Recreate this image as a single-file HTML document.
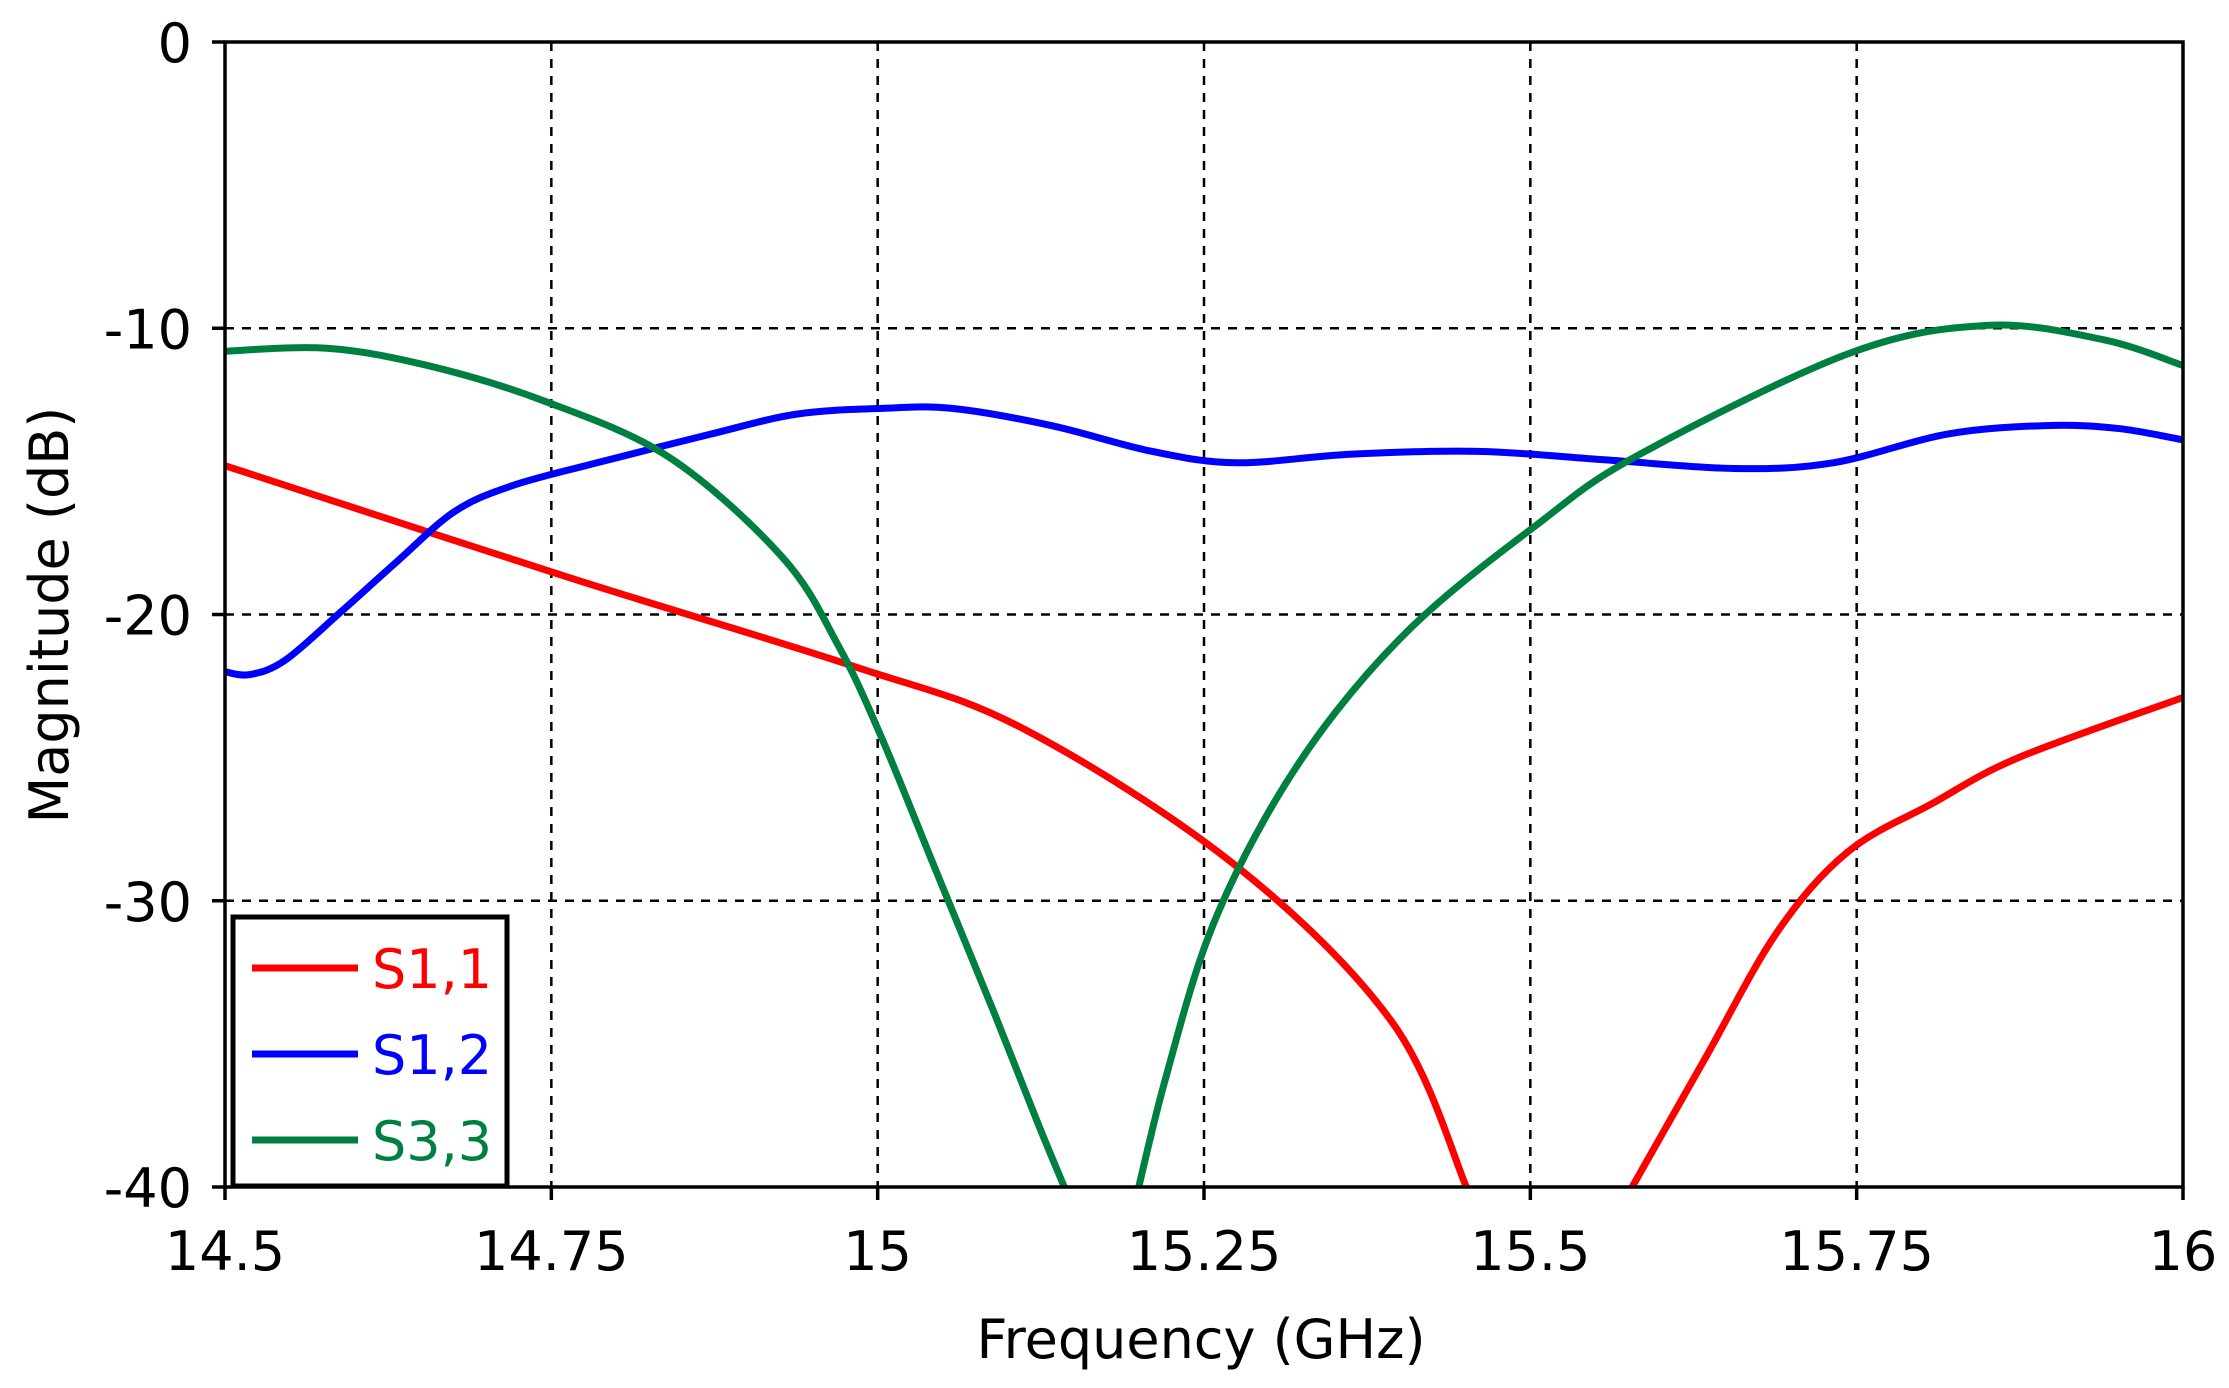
<!DOCTYPE html>
<html><head><meta charset="utf-8"><style>
html,body{margin:0;padding:0;background:#fff;}
svg{display:block;}
text{font-family:"DejaVu Sans","Liberation Sans",sans-serif;}
</style></head><body>
<svg id="s" width="2229" height="1388" xmlns="http://www.w3.org/2000/svg">
<g id="grid" stroke="#000" stroke-width="2.5" stroke-dasharray="9,8"></g>
<g id="curves" fill="none" stroke-width="7" stroke-linejoin="round"></g>
<rect x="225" y="42" width="1958" height="1145" fill="none" stroke="#000" stroke-width="3.5"/>
<g id="ticks" stroke="#000" stroke-width="3.5"></g>
<g id="labels" font-size="54" fill="#000"></g>
<text x="1201" y="1358" font-size="54" text-anchor="middle">Frequency (GHz)</text>
<text transform="translate(68,615) rotate(-90)" font-size="54" text-anchor="middle">Magnitude (dB)</text>
<rect x="233" y="917" width="274" height="269" fill="#fff" stroke="#000" stroke-width="5"/>
<line x1="252" y1="968" x2="358" y2="968" stroke="#ff0000" stroke-width="7"/>
<line x1="252" y1="1054" x2="358" y2="1054" stroke="#0000ff" stroke-width="7"/>
<line x1="252" y1="1140" x2="358" y2="1140" stroke="#008040" stroke-width="7"/>
<text x="372" y="988" font-size="54" fill="#ff0000">S1,1</text>
<text x="372" y="1074" font-size="54" fill="#0000ff">S1,2</text>
<text x="372" y="1160" font-size="54" fill="#008040">S3,3</text>
</svg>
<script>
var NS="http://www.w3.org/2000/svg";
function X(f){return 225+(f-14.5)/1.5*1958;}
function Y(d){return 42+(-d)/40*1145;}
function el(p,n,a){var e=document.createElementNS(NS,n);for(var k in a)e.setAttribute(k,a[k]);p.appendChild(e);return e;}
var g=document.getElementById('grid'),t=document.getElementById('ticks'),L=document.getElementById('labels');
var xs=[14.5,14.75,15,15.25,15.5,15.75,16],xl=["14.5","14.75","15","15.25","15.5","15.75","16"];
xs.forEach(function(f,i){var x=X(f);if(i>0&&i<6)el(g,'line',{x1:x,y1:42,x2:x,y2:1187});
el(t,'line',{x1:x,y1:1187,x2:x,y2:1200});
var tx=el(L,'text',{x:x,y:1270,'text-anchor':'middle'});tx.textContent=xl[i];});
[0,-10,-20,-30,-40].forEach(function(d,i){var y=Y(d);if(i>0&&i<4)el(g,'line',{x1:225,y1:y,x2:2183,y2:y});
el(t,'line',{x1:212,y1:y,x2:225,y2:y});
var tx=el(L,'text',{x:192,y:y+20,'text-anchor':'end'});tx.textContent=String(d);});
function path(pts,col){var P=pts.map(function(p){return [X(p[0]),Y(p[1])];});
var d="M"+P[0][0]+","+P[0][1];
for(var i=0;i<P.length-1;i++){var p0=P[i-1]||P[i],p1=P[i],p2=P[i+1],p3=P[i+2]||P[i+1];
d+=" C"+(p1[0]+(p2[0]-p0[0])/6)+","+(p1[1]+(p2[1]-p0[1])/6)+" "+(p2[0]-(p3[0]-p1[0])/6)+","+(p2[1]-(p3[1]-p1[1])/6)+" "+p2[0]+","+p2[1];}
el(document.getElementById('curves'),'path',{d:d,stroke:col});}
path([[14.5,-14.8],[14.763,-18.7],[14.981,-21.8],[15.112,-24.0],[15.275,-28.8],[15.395,-34.3],[15.451,-40]],"#ff0000");
path([[15.578,-40],[15.634,-35.5],[15.689,-31.1],[15.743,-28.3],[15.808,-26.6],[15.874,-25.0],[16,-22.9]],"#ff0000");
path([[14.5,-22.0],[14.519,-22.1],[14.546,-21.6],[14.589,-19.9],[14.633,-18.1],[14.676,-16.4],[14.720,-15.5],[14.785,-14.7],[14.872,-13.7],[14.938,-13.0],[15.003,-12.8],[15.057,-12.8],[15.133,-13.4],[15.210,-14.3],[15.275,-14.7],[15.362,-14.4],[15.460,-14.3],[15.558,-14.6],[15.656,-14.9],[15.732,-14.7],[15.819,-13.7],[15.895,-13.4],[15.950,-13.5],[16,-13.9]],"#0000ff");
path([[14.5,-10.8],[14.578,-10.7],[14.655,-11.3],[14.742,-12.5],[14.840,-14.5],[14.927,-18.0],[14.970,-21.1],[15.003,-24.3],[15.046,-29.1],[15.090,-34.0],[15.123,-37.8],[15.143,-40]],"#008040");
path([[15.200,-40],[15.220,-36.3],[15.253,-31.3],[15.297,-27.1],[15.351,-23.4],[15.417,-20.1],[15.504,-16.9],[15.580,-14.5],[15.743,-10.9],[15.850,-9.9],[15.939,-10.4],[16,-11.3]],"#008040");
</script>
</body></html>
